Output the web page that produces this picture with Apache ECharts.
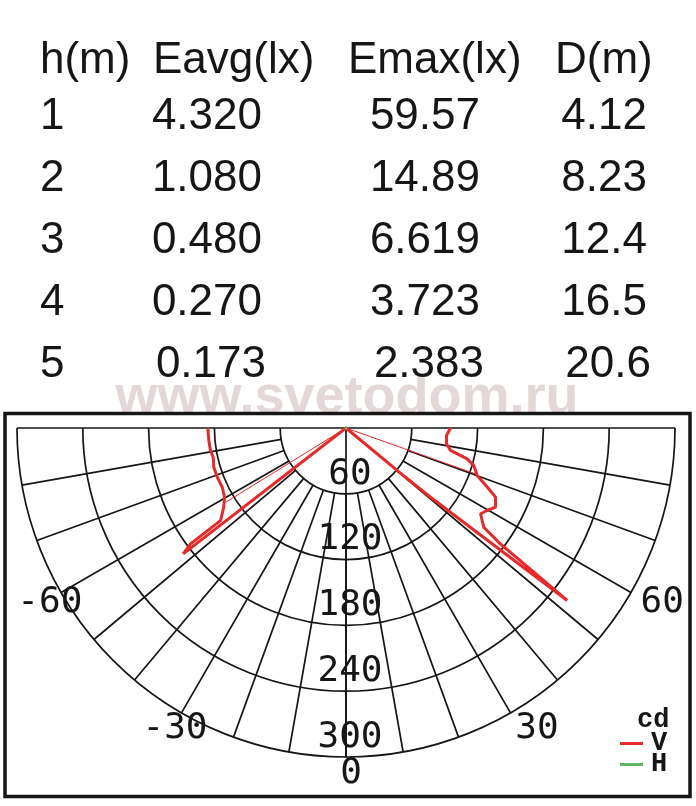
<!DOCTYPE html>
<html>
<head>
<meta charset="utf-8">
<script src="https://cdn.jsdelivr.net/npm/echarts@6/dist/echarts.min.js"></script>
<style>html,body{margin:0;padding:0;background:#fff}#c{width:696px;height:806px}</style>
</head>
<body>
<div id="c"></div>
<script>
// ---- table data ----
const headers = ['h(m)', 'Eavg(lx)', 'Emax(lx)', 'D(m)'];
const heights = ['1', '2', '3', '4', '5'];
const eavg = ['4.320', '1.080', '0.480', '0.270', '0.173'];
const emax = ['59.57', '14.89', '6.619', '3.723', '2.383'];
const dist = ['4.12', '8.23', '12.4', '16.5', '20.6'];
const watermark = 'www.svetodom.ru';

// ---- polar diagram data (cd vs angle in degrees, negative = left half) ----
const vAngle = [-90, -84.8, -80.6, -77.6, -73.5, -69.1, -64.4, -60.3, -57.1, -53.6, -53.4, -53.3, -52.3, -52.2,
  50, 50.3, 50.7, 52.05, 52.55, 53.1, 54.25, 55.8, 57.5, 59.7, 62.1, 65.2, 67.3, 70.1, 73.6, 75.7, 77.9, 81.1, 85.7, 90];
const vCd = [126, 125.6, 125.3, 124, 125.7, 125.7, 125.1, 127.5, 132.8, 142, 161.6, 176.8, 187.6, 0,
  0, 62, 100, 255.8, 212, 176, 154.8, 150.1, 145.5, 149.1, 154.3, 150.2, 139.6, 127.2, 121.5, 114, 97.5, 92.8, 91.9, 95.3];
const vThinAngle = [-58.3, -58.3, 70.5, 70.5];
const vThinCd = [129, 0, 0, 127];
const hAngle = [-90, -45, 0, 45, 90];
const hCd = [1, 1, 1, 1, 1];
const angleLabels = [-60, -30, 0, 30, 60];
const legendNames = ['V', 'H'];
const unitLabel = 'cd';

// ---- layout ----
const CX = 346, CY = 428, R = 329;
const monoFont = '"DejaVu Sans Mono", monospace';
const sansFont = '"Liberation Sans", Arial, sans-serif';
const RED = '#e42a2a', GREEN = '#5cb85c', INK = '#161616';

const wrap = a => (a < 0 ? a + 360 : a);
const pairs = (rs, as) => rs.map((r, i) => [r, wrap(as[i])]);

const tableFont = '44px ' + sansFont;
const headerX = [40, 153, 348, 555];
const rowY = [117, 179, 241, 302.5, 365];
const colRight = [262, 480, 647];
const gfx = [];
gfx.push({type: 'text', id: 'wm', z: -20, x: 347, y: 398,
  style: {text: watermark, font: 'bold 54px ' + sansFont, fill: '#e4d7d7', align: 'center', verticalAlign: 'middle'}});
gfx.push({type: 'rect', id: 'frame', z: -10, shape: {x: 5, y: 413.5, width: 685, height: 383},
  style: {fill: '#fff', stroke: INK, lineWidth: 3.5}});
headers.forEach((h, i) => gfx.push({type: 'text', id: 'h' + i, x: headerX[i], y: 61,
  style: {text: h, font: tableFont, fill: INK, align: 'left', verticalAlign: 'middle'}}));
heights.forEach((h, i) => {
  const y = rowY[i];
  gfx.push({type: 'text', id: 'r' + i, x: 40, y, style: {text: h, font: tableFont, fill: INK, align: 'left', verticalAlign: 'middle'}});
  [eavg, emax, dist].forEach((col, j) => gfx.push({type: 'text', id: 'c' + i + '_' + j, x: colRight[j] + (i === 4 ? 4 : 0), y,
    style: {text: col[i], font: tableFont, fill: INK, align: 'right', verticalAlign: 'middle'}}));
});

const chart = echarts.init(document.getElementById('c'), null, {renderer: 'canvas'});
const gridLine = {color: INK, width: 1.7};
chart.setOption({
  backgroundColor: '#fff',
  animation: false,
  title: {text: unitLabel, left: 637, top: 707, padding: 0,
    textStyle: {fontFamily: '"Liberation Mono", monospace', fontWeight: 'bold', fontSize: 27, color: INK}},
  legend: {data: legendNames, orient: 'vertical', left: 620, top: 730, padding: 0, itemGap: -6,
    itemWidth: 23, itemHeight: 3, icon: 'rect', selectedMode: false,
    textStyle: {fontFamily: '"Liberation Mono", monospace', fontWeight: 'bold', fontSize: 27, color: INK, padding: [0, 0, 0, 3]}},
  graphic: {elements: gfx},
  polar: [
    {center: [CX, CY], radius: [R * 60 / 300, R]},
    {center: [CX, CY], radius: R}
  ],
  angleAxis: [
    {polarIndex: 0, type: 'value', min: -90, max: 90, interval: 10, startAngle: 180, endAngle: 360, clockwise: false,
      axisLine: {show: false}, axisTick: {show: false}, axisLabel: {show: false},
      splitLine: {show: true, lineStyle: gridLine}},
    {polarIndex: 1, type: 'value', min: 0, max: 360, startAngle: 270, clockwise: false,
      axisLine: {show: false}, axisTick: {show: false}, splitLine: {show: false}, axisLabel: {show: false}}
  ],
  radiusAxis: [
    {polarIndex: 0, type: 'value', min: 60, max: 300, interval: 60,
      axisLine: {show: false}, axisTick: {show: false}, axisLabel: {show: false},
      splitLine: {show: true, lineStyle: gridLine}},
    {polarIndex: 1, type: 'value', min: 0, max: 300, interval: 60,
      axisLine: {show: true, lineStyle: gridLine}, axisTick: {show: false}, splitLine: {show: false},
      axisLabel: {show: true, showMinLabel: false, margin: 0, align: 'center', verticalAlign: 'bottom',
        lineHeight: 39, padding: [0, 0, 0, 8], fontFamily: monoFont, fontSize: 36, color: INK}}
  ],
  series: [
    {type: 'line', name: 'axis', coordinateSystem: 'polar', polarIndex: 1, silent: true, symbol: 'none',
      data: pairs([60, 0, 60], [-90, 0, 90]), lineStyle: gridLine, z: 1},
    {type: 'line', name: 'Vthin', coordinateSystem: 'polar', polarIndex: 1, symbol: 'none',
      data: pairs(vThinCd, vThinAngle), lineStyle: {color: RED, width: 1}, itemStyle: {color: RED}},
    {type: 'line', name: 'V', coordinateSystem: 'polar', polarIndex: 1, symbol: 'none',
      data: pairs(vCd, vAngle), lineStyle: {color: RED, width: 3}, itemStyle: {color: RED}},
    {type: 'line', name: 'H', coordinateSystem: 'polar', polarIndex: 1, symbol: 'none',
      data: pairs(hCd, hAngle), lineStyle: {color: GREEN, width: 3}, itemStyle: {color: GREEN}}
  ]
});

// angle labels placed through the polar scale (label radius just outside the outer ring)
const labelCd = 300 * 342 / R;
angleLabels.forEach((a, i) => {
  const p = chart.convertToPixel({seriesIndex: 2}, [labelCd, wrap(a)]);
  const dx = a > 0 ? 20 : (a === 0 ? 5 : 0);
  gfx.push({type: 'text', id: 'al' + i, x: p[0] + dx, y: p[1] + 4,
    style: {text: String(a), font: '36px ' + monoFont, fill: INK, align: 'center', verticalAlign: 'middle'}});
});
chart.setOption({graphic: {elements: gfx}});
</script>
</body>
</html>
